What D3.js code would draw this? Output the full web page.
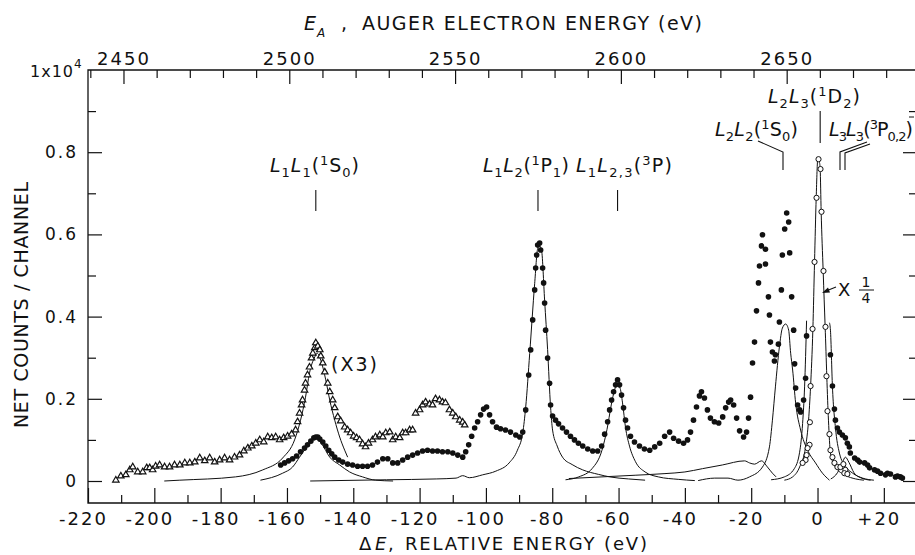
<!DOCTYPE html>
<html>
<head>
<meta charset="utf-8">
<script src="https://cdn.jsdelivr.net/npm/d3@7"></script>
<style>
  body { margin: 0; background: #fff; }
  svg { display: block; background: #fff; }
  text { font-family: "DejaVu Sans", "Liberation Sans", sans-serif; fill: #111; }
</style>
</head>
<body>
<script>
// ---- data (dE in eV, counts in units of 1x10^4) ----

// filled dots: measured spectrum
const mainDots = [
  [-161.9,0.039],[-160.7,0.044],[-159.5,0.049],[-158.3,0.054],[-157.1,0.061],[-155.9,0.071],
  [-154.7,0.080],[-153.8,0.088],[-152.8,0.097],[-151.9,0.105],[-151.3,0.107],[-150.7,0.107],
  [-150.1,0.102],[-149.2,0.095],[-148.3,0.085],[-147.4,0.075],[-146.5,0.066],[-145.6,0.058],
  [-144.4,0.051],[-143.2,0.046],[-141.7,0.041],[-140.2,0.039],[-138.7,0.036],[-137.2,0.036],
  [-135.7,0.036],[-134.2,0.039],[-132.7,0.046],[-131.1,0.054],[-129.6,0.054],[-128.1,0.044],
  [-126.6,0.044],[-125.1,0.051],[-123.6,0.058],[-122.1,0.063],[-120.6,0.068],[-119.1,0.073],
  [-117.6,0.075],[-116.1,0.073],[-114.6,0.073],[-113.1,0.071],[-111.5,0.071],[-110.0,0.068],
  [-108.5,0.063],[-107.0,0.058],[-106.1,0.071],[-105.2,0.088],[-104.3,0.109],[-103.4,0.129],
  [-102.5,0.144],[-101.6,0.161],[-100.7,0.175],[-99.8,0.180],[-98.9,0.161],[-98.0,0.144],
  [-96.8,0.131],[-95.6,0.127],[-94.1,0.124],[-92.6,0.119],[-91.0,0.112],[-89.8,0.107],
  [-88.9,0.119],[-88.0,0.173],[-87.1,0.258],[-86.5,0.319],[-85.9,0.392],[-85.3,0.465],
  [-85.0,0.518],[-84.7,0.550],[-84.4,0.574],[-83.8,0.579],[-83.5,0.562],[-82.9,0.518],
  [-82.6,0.482],[-82.3,0.433],[-82.0,0.367],[-81.4,0.299],[-80.8,0.238],[-80.5,0.185],
  [-79.9,0.158],[-79.0,0.148],[-78.1,0.139],[-76.9,0.129],[-75.7,0.119],[-74.5,0.109],
  [-73.3,0.100],[-72.1,0.092],[-70.8,0.085],[-69.3,0.078],[-67.8,0.073],[-66.3,0.073],
  [-65.1,0.085],[-64.2,0.114],[-63.3,0.144],[-62.7,0.173],[-62.1,0.197],[-61.5,0.217],
  [-60.9,0.234],[-60.3,0.246],[-59.7,0.234],[-59.1,0.209],[-58.5,0.178],[-57.9,0.148],
  [-57.3,0.129],[-56.4,0.109],[-55.2,0.095],[-53.7,0.085],[-52.2,0.078],[-50.6,0.075],
  [-49.1,0.083],[-47.6,0.092],[-46.1,0.109],[-44.6,0.119],[-43.4,0.104],[-41.9,0.097],
  [-40.4,0.092],[-39.2,0.100],[-38.3,0.119],[-37.4,0.148],[-36.5,0.180],[-35.6,0.207],
  [-35.0,0.217],[-34.1,0.202],[-33.2,0.173],[-32.3,0.153],[-31.1,0.144],[-29.8,0.141],
  [-28.6,0.156],[-27.7,0.178],[-26.8,0.192],[-26.2,0.197],[-25.3,0.185],[-24.4,0.153],
  [-23.5,0.122],[-22.3,0.107],[-21.4,0.119],[-20.8,0.153],[-20.2,0.204],[-19.6,0.287],
  [-19.0,0.338],[-18.4,0.414],[-17.8,0.482],[-17.5,0.523],[-16.9,0.572],[-16.6,0.599],
  [-15.7,0.564],[-15.7,0.528],[-14.8,0.448],[-14.5,0.404],[-14.2,0.338],[-13.6,0.314],
  [-13.0,0.292],[-12.7,0.307],[-11.8,0.333],[-11.5,0.387],[-10.9,0.465],[-10.6,0.550],
  [-9.9,0.613],[-9.3,0.652],[-8.7,0.630],[-8.4,0.555],[-7.8,0.448],[-7.2,0.367],
  [-6.9,0.285],[-6.6,0.226],[-6.0,0.185],[-5.4,0.173],[-5.1,0.168],[-4.2,0.197],
  [-3.6,0.250],[-3.3,0.353],
  [3.9,0.307],[4.5,0.231],[5.1,0.175],[5.4,0.148],[6.0,0.129],[6.6,0.119],[7.5,0.112],
  [8.4,0.105],[9.0,0.092],[9.6,0.083],[9.9,0.068],[11.2,0.056],[12.1,0.051],[12.7,0.046],
  [14.2,0.044],[15.1,0.039],[15.7,0.032],[17.2,0.027],[18.1,0.024],[19.0,0.019],[20.5,0.015],
  [21.1,0.019],[22.0,0.017],[23.5,0.010],[24.1,0.012],[25.0,0.010],[25.6,0.007]
];

// open triangles: L1L1 region plotted x3
const x3Triangles = [
  [-211.6,0.002],[-210.1,0.012],[-208.6,0.015],[-207.4,0.027],[-206.5,0.034],[-205.0,0.022],
  [-203.5,0.022],[-202.3,0.032],[-201.4,0.032],[-200.5,0.027],[-199.6,0.036],[-198.4,0.039],
  [-196.9,0.034],[-195.4,0.034],[-193.9,0.039],[-192.3,0.039],[-190.8,0.044],[-189.3,0.044],
  [-187.8,0.046],[-186.3,0.056],[-184.8,0.049],[-183.3,0.056],[-181.8,0.046],[-180.3,0.051],
  [-178.8,0.056],[-177.3,0.051],[-175.8,0.058],[-174.3,0.063],[-173.0,0.073],[-171.8,0.080],
  [-170.6,0.085],[-169.4,0.092],[-168.2,0.100],[-167.0,0.095],[-165.8,0.107],[-164.6,0.105],
  [-163.4,0.107],[-162.2,0.100],[-161.0,0.105],[-159.8,0.109],[-158.6,0.114],[-157.4,0.124],
  [-156.8,0.144],[-156.2,0.165],[-155.6,0.185],[-155.3,0.197],[-154.7,0.221],[-154.4,0.238],
  [-153.8,0.258],[-153.2,0.277],[-152.6,0.299],[-152.2,0.311],[-151.6,0.324],[-151.3,0.336],
  [-150.7,0.328],[-150.1,0.319],[-149.8,0.304],[-149.2,0.287],[-148.6,0.265],[-147.7,0.238],
  [-147.1,0.217],[-146.2,0.197],[-145.6,0.178],[-144.7,0.156],[-143.8,0.146],[-142.6,0.131],
  [-141.7,0.124],[-140.8,0.117],[-139.9,0.109],[-139.0,0.105],[-138.1,0.100],[-137.2,0.090],
  [-136.3,0.083],[-135.4,0.092],[-134.2,0.100],[-133.3,0.107],[-132.0,0.112],[-131.1,0.107],
  [-130.2,0.117],[-129.0,0.119],[-128.1,0.100],[-127.2,0.107],[-126.0,0.105],[-125.1,0.117],
  [-124.2,0.117],[-123.0,0.124],[-122.1,0.124],[-121.2,0.165],[-120.0,0.173],[-119.1,0.185],
  [-118.2,0.192],[-117.0,0.187],[-116.1,0.185],[-115.2,0.200],[-114.0,0.197],[-113.1,0.192],
  [-112.2,0.190],[-111.0,0.173],[-110.0,0.165],[-109.1,0.156],[-107.9,0.148],[-107.0,0.143],
  [-106.4,0.136]
];

// open circles: L2L3(1D2) peak plotted x1/4
const quarterCircles = [
  [0.3,0.783],[0.9,0.759],[-0.3,0.689],[1.2,0.655],[-0.9,0.533],[1.8,0.511],[-1.5,0.370],
  [2.4,0.375],[-2.1,0.231],[2.7,0.255],[-2.3,0.143],[3.0,0.170],[-2.4,0.088],[-3.0,0.080],
  [-3.3,0.063],[-3.6,0.051],[-4.5,0.044],[3.6,0.114],[3.9,0.075],[4.5,0.058],[5.1,0.044],
  [6.0,0.034],[6.9,0.034],[7.8,0.041],[8.4,0.027],[8.1,0.019],[9.0,0.017]
];

// fitted line shapes
const fitL1L1x3 = [
  [-197,0.0],[-192.3,0.002],[-175.5,0.010],[-167.3,0.027],[-161.3,0.056],[-157.7,0.100],
  [-155.9,0.148],[-154.4,0.204],[-153.2,0.263],[-151.6,0.302],[-150.9,0.311],[-149.8,0.294],
  [-148.3,0.246],[-147.1,0.197],[-145.6,0.148],[-144.1,0.107],[-142.6,0.075],[-141.7,0.058]
];
const fitL1L1 = [
  [-168,0.002],[-161.3,0.019],[-158.3,0.034],[-156.2,0.058],[-153.2,0.092],[-151.3,0.105],
  [-149.5,0.090],[-147.1,0.058],[-144.1,0.039],[-141.1,0.022],[-137.2,0.010],[-133.3,0.002],
  [-128,0.0]
];
const fitL1L2 = [
  [-153,0.0],[-130,0.003],[-115,0.005],[-109,0.007],[-107,0.013],[-105,0.008],[-101,0.015],
  [-97,0.024],[-93,0.044],[-90.5,0.075],[-88.9,0.117],[-88.0,0.18],[-86.8,0.31],[-85.3,0.48],
  [-84.4,0.565],[-83.8,0.572],[-83.2,0.56],[-82.3,0.44],[-81.4,0.32],[-80.5,0.18],
  [-79.9,0.124],[-78.5,0.085],[-76.9,0.058],[-74,0.04],[-70.8,0.027],[-66,0.016],
  [-62.7,0.010],[-57,0.005],[-52,0.002]
];
const fitL1L23 = [
  [-76,0.003],[-72,0.010],[-68,0.030],[-65,0.075],[-63.5,0.125],[-62.2,0.185],[-61.2,0.222],
  [-60.3,0.235],[-59.5,0.225],[-58.8,0.19],[-57.9,0.13],[-56.7,0.085],[-54.9,0.047],
  [-52,0.022],[-48,0.010],[-42,0.004],[-37,0.001]
];
const background = [
  [-75,0.006],[-65,0.010],[-55,0.014],[-46,0.018],[-40,0.022],[-34.7,0.030],[-28.7,0.039],
  [-22,0.049],[-20.5,0.044],[-19,0.041],[-16.9,0.049],[-15.1,0.034],[-13.6,0.019],[-12.5,0.010]
];
const fitL2L2 = [
  [-36,0.001],[-31,0.007],[-27,0.007],[-24,0.002],[-20.5,0.010],[-16.6,0.034],[-14.5,0.083],
  [-13.6,0.148],[-12.7,0.229],[-11.5,0.326],[-10.6,0.372],[-9.6,0.382],[-8.7,0.367],
  [-8.1,0.311],[-7.5,0.27],[-6.6,0.19],[-5.1,0.124],[-3.0,0.075],[-0.6,0.044],[1.5,0.019],
  [3.6,0.002]
];
const fitL2L3quarter = [
  [-10,0.002],[-7.5,0.010],[-5.4,0.034],[-3.6,0.083],[-2.7,0.148],[-2.1,0.229],[-1.4,0.37],
  [-0.9,0.533],[-0.4,0.689],[0.1,0.785],[0.6,0.775],[0.8,0.759],[1.1,0.655],[1.7,0.511],
  [2.3,0.375],[3.3,0.148],[3.9,0.068],[5.4,0.034],[8.4,0.014],[11.5,0.005],[14,0.002]
];
const fitL2L3left = [
  [-14,0.003],[-10,0.010],[-7,0.030],[-5.4,0.07],[-4.5,0.14],[-3.9,0.229],[-3.3,0.39]
];
const fitL2L3right = [
  [3.6,0.385],[3.9,0.367],[4.5,0.229],[5.4,0.13],[6.6,0.068],[8.5,0.035],[10.6,0.019],
  [13.6,0.007],[17,0.002]
];
const fit3P = [
  [4,0.005],[6,0.02],[7.5,0.045],[8.4,0.058],[9.5,0.045],[11,0.02],[13,0.008],[16,0.002]
];

// axis ticks
const bottomMajor = [-220,-200,-180,-160,-140,-120,-100,-80,-60,-40,-20,0,20];
const bottomMinor = [-210,-190,-170,-150,-130,-110,-90,-70,-50,-30,-10,10];
const topMajor = [2450,2500,2550,2600,2650];
const topMinor = [2440,2460,2470,2480,2490,2510,2520,2530,2540,2560,2570,2580,2590,
                  2610,2620,2630,2640,2660,2670,2680];
const yMajor = [0,0.2,0.4,0.6,0.8];
const yMinor = [0.1,0.3,0.5,0.7,0.9];
const augerOffset = 2659.3;   // E_A = dE + offset

// peak assignments
const peakLabels = [
  {x: 270, y: 172, len: 89, mark: -151.3,
   parts: [['L','i'],['1','sub'],['L','i'],['1','sub'],['(','n'],['1','sup'],['S','n'],['0','sub'],[')','n']]},
  {x: 483, y: 172, len: 86, mark: -84.3,
   parts: [['L','i'],['1','sub'],['L','i'],['2','sub'],['(','n'],['1','sup'],['P','n'],['1','sub'],[')','n']]},
  {x: 576, y: 172, len: 96, mark: -60.3,
   parts: [['L','i'],['1','sub'],['L','i'],['2,3','sub'],['(','n'],['3','sup'],['P','n'],[')','n']]}
];

const width = 915, height = 555;
const svg = d3.select('body').append('svg').attr('width', width).attr('height', height);

const x = d3.scaleLinear().domain([-220, 30]).range([88, 917]);
const y = d3.scaleLinear().domain([0, 1]).range([481, 70]);
const xTop = d3.scaleLinear().domain([-220 + augerOffset, 30 + augerOffset]).range([88, 917]);
const yBase = 503;

// ---- axes ----
const fmtX = d => d > 0 ? '+' + d : (d < 0 ? '-' + Math.abs(d) : '0');
const fmtY = d => d === 0 ? '0' : d.toFixed(1);

function styleAxis(g, size) {
  g.select('.domain').remove();
  g.selectAll('line').attr('stroke', '#111').attr('stroke-width', 1.2);
  g.selectAll('text').attr('font-size', size).attr('font-family', null)
    .style('letter-spacing', '2px').attr('fill', '#111');
}

svg.append('g').attr('transform', `translate(0,${yBase})`)
  .call(d3.axisBottom(x).tickValues(bottomMinor).tickSize(-8).tickFormat(''))
  .call(g => styleAxis(g, 18));
svg.append('g').attr('transform', `translate(0,${yBase})`)
  .call(d3.axisBottom(x).tickValues(bottomMajor).tickSize(-15).tickPadding(9).tickFormat(fmtX))
  .call(g => styleAxis(g, 18))
  .call(g => g.selectAll('text').attr('dx', d => d !== 0 ? -5 : 0));

svg.append('g').attr('transform', 'translate(0,70)')
  .call(d3.axisTop(xTop).tickValues(topMinor).tickSize(-8).tickFormat(''))
  .call(g => styleAxis(g, 18));
svg.append('g').attr('transform', 'translate(0,70)')
  .call(d3.axisTop(xTop).tickValues(topMajor).tickSize(-14).tickPadding(5).tickFormat(d3.format('d')))
  .call(g => styleAxis(g, 18));

svg.append('g').attr('transform', 'translate(88,0)')
  .call(d3.axisLeft(y).tickValues(yMinor).tickSize(-8).tickFormat(''))
  .call(g => styleAxis(g, 17));
svg.append('g').attr('transform', 'translate(88,0)')
  .call(d3.axisLeft(y).tickValues(yMajor).tickSize(-14).tickPadding(10).tickFormat(fmtY))
  .call(g => styleAxis(g, 17));

svg.append('g').attr('transform', 'translate(917,0)')
  .call(d3.axisRight(y).tickValues(yMinor).tickSize(-8).tickFormat(''))
  .call(g => styleAxis(g, 17));
svg.append('g').attr('transform', 'translate(917,0)')
  .call(d3.axisRight(y).tickValues(yMajor).tickSize(-14).tickFormat(''))
  .call(g => styleAxis(g, 17));

// frame
svg.append('path')
  .attr('d', `M917,70H88V${yBase}H917`)
  .attr('fill', 'none').attr('stroke', '#111').attr('stroke-width', 1.3);

// 1x10^4
const mult = svg.append('text').attr('x', 30).attr('y', 77).attr('font-size', 16);
mult.append('tspan').text('1x10').style('letter-spacing', '1px');
mult.append('tspan').attr('dy', -9).attr('font-size', 12).text('4');

// ---- axis titles ----
svg.append('text').attr('x', 304).attr('y', 30).attr('font-size', 19)
  .attr('font-style', 'italic').text('E');
svg.append('text').attr('x', 317).attr('y', 37).attr('font-size', 12)
  .attr('font-style', 'italic').text('A');
svg.append('text').attr('x', 341).attr('y', 30).attr('font-size', 19).text(',');
svg.append('text').attr('x', 362).attr('y', 30).attr('font-size', 19)
  .attr('textLength', 340).attr('lengthAdjust', 'spacing').text('AUGER ELECTRON ENERGY (eV)');

svg.append('text').attr('x', 359).attr('y', 550).attr('font-size', 18).text('\u0394');
svg.append('text').attr('x', 375).attr('y', 550).attr('font-size', 18)
  .attr('font-style', 'italic').text('E');
svg.append('text').attr('x', 388).attr('y', 550).attr('font-size', 18).text(',');
svg.append('text').attr('x', 405).attr('y', 550).attr('font-size', 18)
  .attr('textLength', 242).attr('lengthAdjust', 'spacing').text('RELATIVE ENERGY (eV)');

svg.append('text').attr('transform', 'translate(28,305) rotate(-90)')
  .attr('text-anchor', 'middle').attr('font-size', 19)
  .attr('textLength', 246).attr('lengthAdjust', 'spacing').text('NET COUNTS / CHANNEL');

// ---- fitted curves ----
const line = d3.line().x(d => x(d[0])).y(d => y(d[1])).curve(d3.curveMonotoneX);
[fitL1L1x3, fitL1L1, fitL1L2, fitL1L23, background, fitL2L2,
 fitL2L3quarter, fitL2L3left, fitL2L3right, fit3P].forEach(c => {
  svg.append('path').datum(c).attr('d', line)
    .attr('fill', 'none').attr('stroke', '#111').attr('stroke-width', 1);
});

// ---- markers ----
svg.append('g').selectAll('circle').data(mainDots).join('circle')
  .attr('cx', d => x(d[0])).attr('cy', d => y(d[1])).attr('r', 2.8).attr('fill', '#111');

const tri = d3.symbol().type(d3.symbolTriangle).size(18);
svg.append('g').selectAll('path').data(x3Triangles).join('path')
  .attr('transform', d => `translate(${x(d[0])},${y(d[1])})`)
  .attr('d', tri).attr('fill', '#fff').attr('stroke', '#111').attr('stroke-width', 1.2);

svg.append('g').selectAll('circle').data(quarterCircles).join('circle')
  .attr('cx', d => x(d[0])).attr('cy', d => y(d[1])).attr('r', 2.6)
  .attr('fill', '#fff').attr('stroke', '#111').attr('stroke-width', 1);

// ---- peak labels ----
function chem(px, py, parts, len, size) {
  const t = svg.append('text').attr('x', px).attr('y', py).attr('font-size', size || 19);
  let off = 0;
  parts.forEach(([s, k]) => {
    const target = k === 'sub' ? 5 : (k === 'sup' ? -7 : 0);
    const ts = t.append('tspan').attr('dy', target - off).text(s);
    off = target;
    if (k === 'sub' || k === 'sup') ts.attr('font-size', 13);
    if (k === 'i') ts.attr('font-style', 'italic');
  });
  if (len) t.attr('textLength', len).attr('lengthAdjust', 'spacing');
  return t;
}

peakLabels.forEach(p => {
  chem(p.x, p.y, p.parts, p.len);
  svg.append('line').attr('x1', x(p.mark)).attr('x2', x(p.mark))
    .attr('y1', 190).attr('y2', 211).attr('stroke', '#111').attr('stroke-width', 1.1);
});

chem(768, 103, [['L','i'],['2','sub'],['L','i'],['3','sub'],['(','n'],['1','sup'],['D','n'],['2','sub'],[')','n']], 92);
svg.append('line').attr('x1', x(0.8)).attr('x2', x(0.8)).attr('y1', 111).attr('y2', 143)
  .attr('stroke', '#111').attr('stroke-width', 1.1);

chem(715, 136, [['L','i'],['2','sub'],['L','i'],['2','sub'],['(','n'],['1','sup'],['S','n'],['0','sub'],[')','n']], 83);
svg.append('path').attr('d', 'M758,141L783,152V170')
  .attr('fill', 'none').attr('stroke', '#111').attr('stroke-width', 1.1);

chem(829, 136, [['L','i'],['3','sub'],['L','i'],['3','sub'],['(','n'],['3','sup'],['P','n'],['0,2','sub'],[')','n']], 84);
svg.append('path').attr('d', 'M867,142L840,152V170M870,144L845,153V170M909,117H914')
  .attr('fill', 'none').attr('stroke', '#111').attr('stroke-width', 1.1);

// (X3)
svg.append('text').attr('x', 331).attr('y', 371).attr('font-size', 19)
  .attr('textLength', 46).attr('lengthAdjust', 'spacing').text('(X3)');

// X 1/4 with arrow
svg.append('text').attr('x', 838).attr('y', 296).attr('font-size', 18).text('X');
svg.append('text').attr('x', 866).attr('y', 287).attr('font-size', 14)
  .attr('text-anchor', 'middle').text('1');
svg.append('line').attr('x1', 859).attr('x2', 874).attr('y1', 290).attr('y2', 290)
  .attr('stroke', '#111');
svg.append('text').attr('x', 866).attr('y', 303).attr('font-size', 14)
  .attr('text-anchor', 'middle').text('4');
svg.append('path').attr('d', 'M836,287L826,291')
  .attr('stroke', '#111').attr('stroke-width', 1.1);
svg.append('path').attr('d', 'M822,293L828,287.5L830,292.5Z').attr('fill', '#111');
</script>
</body>
</html>
